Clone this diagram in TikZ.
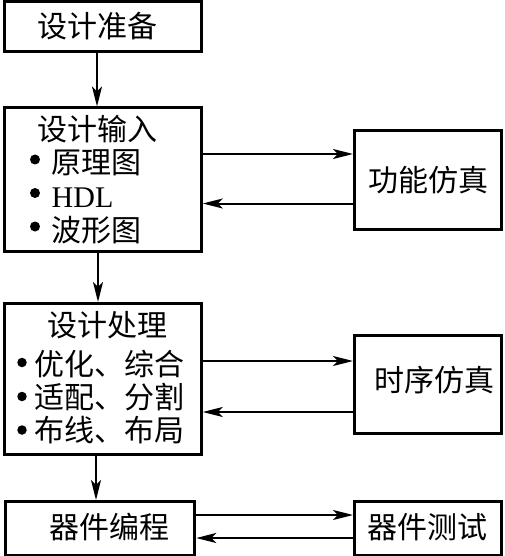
\documentclass[tikz,border=0pt]{standalone}
\usepackage{fontspec}
\setmainfont{Liberation Serif}
\newfontfamily\cjk{Noto Sans CJK SC}
\usetikzlibrary{arrows.meta}

\begin{document}
\begin{tikzpicture}[
        x=1pt,y=-1pt,
        box/.style={rectangle,draw,line width=3pt},
        txt/.style={inner sep=0pt,anchor=base,font=\cjk\fontsize{30}{34}\selectfont},
        itm/.style={txt,anchor=base west},
        arr/.style={-{Stealth[length=20pt,width=10pt,inset=5pt]},line width=2pt},
      ]
      \useasboundingbox (0,0) rectangle (504,556);
      % boxes of the left column
      \node[box,minimum width=196.5pt,minimum height=50pt] (prep) at (103,26.5) {};
      \node[box,minimum width=196.5pt,minimum height=143pt] (entry) at (103,179.5) {};
      \node[box,minimum width=196.5pt,minimum height=151pt] (proc) at (103,379) {};
      \node[box,minimum width=189.5pt,minimum height=53.5pt] (prog) at (100,528.25) {};
      % boxes of the right column
      \node[box,minimum width=147pt,minimum height=98pt] (func) at (428,180) {};
      \node[box,minimum width=147pt,minimum height=98.5pt] (timing) at (428,384.25) {};
      \node[box,minimum width=147pt,minimum height=53.5pt] (test) at (428,528.25) {};
      % texts
      \node[txt] (prepT) at (97.5,38) {设计准备};
      \node[txt] (entryT) at (97.5,141) {设计输入};
      \node[itm] (entry1) at (51,173) {原理图};
      \node[itm] (entry2) at (51.5,207) {\rmfamily HDL};
      \node[itm] (entry3) at (51,241) {波形图};
      \node[txt] (procT) at (107.5,336) {设计处理};
      \node[itm] (proc1) at (34,375) {优化、综合};
      \node[itm] (proc2) at (34,408) {适配、分割};
      \node[itm] (proc3) at (34,441) {布线、布局};
      \node[txt] (progT) at (109,538) {器件编程};
      \node[txt] (funcT) at (428.5,191) {功能仿真};
      \node[txt] (timingT) at (434,391) {时序仿真};
      \node[txt] (testT) at (427.5,538) {器件测试};
      % bullets
      \foreach\y in {159.5,193,226.5}{\fill (35,\y) circle (5pt);}
      \foreach\y in {362.5,396.5,430}{\fill (22,\y) circle (4.75pt);}
      % flow downwards
      \draw[arr] ([xshift=-6pt]prep.south) -- ([xshift=-6pt]entry.north);
      \draw[arr] ([xshift=-5pt]entry.south) -- ([xshift=-5pt]proc.north);
      \draw[arr] ([xshift=-7pt]proc.south) -- ([xshift=-4pt]prog.north);
      % loops to the right
      \draw[arr] (entry.east |- 0,154) -- (func.west |- 0,154);
      \draw[arr] (func.west |- 0,203.5) -- (entry.east |- 0,203.5);
      \draw[arr] (proc.east |- 0,361) -- (timing.west |- 0,361);
      \draw[arr] (timing.west |- 0,412) -- (proc.east |- 0,412);
      \draw[arr] (prog.east |- 0,515) -- (test.west |- 0,515);
      \draw[arr] (test.west |- 0,538) -- (prog.east |- 0,538);
    \end{tikzpicture}
\end{document}
